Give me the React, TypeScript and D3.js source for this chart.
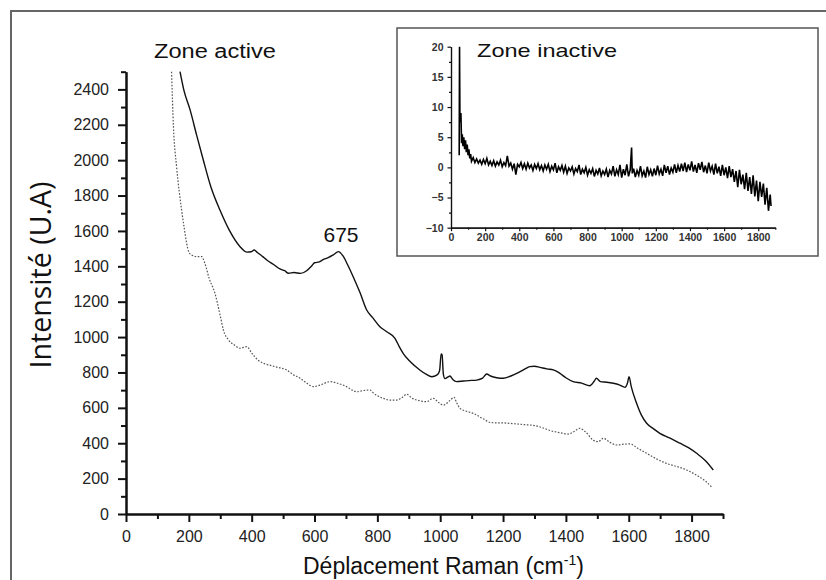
import React, { useEffect, useRef } from 'react';
import * as d3 from 'd3';

// Main chart: solid spectrum (zone active)
const solidX = [172, 185, 204, 225, 246, 270, 299, 330, 363, 385, 398, 408, 418, 435, 448, 470, 490, 505, 517, 535, 555, 575, 590, 600, 615, 630, 645, 660, 676, 690, 705, 723, 745, 766, 785, 808, 830, 856, 870, 882, 905, 935, 955, 973, 990, 998, 1003, 1006, 1010, 1015, 1025, 1031, 1040, 1052, 1075, 1100, 1116, 1135, 1148, 1160, 1180, 1200, 1225, 1250, 1270, 1285, 1300, 1317, 1340, 1360, 1381, 1400, 1423, 1450, 1476, 1490, 1497, 1510, 1530, 1551, 1570, 1588, 1596, 1601, 1608, 1625, 1640, 1657, 1680, 1699, 1730, 1763, 1790, 1816, 1845, 1869];
const solidY = [2500, 2390, 2284, 2140, 2001, 1850, 1718, 1600, 1511, 1480, 1482, 1492, 1478, 1455, 1436, 1410, 1385, 1375, 1361, 1365, 1360, 1375, 1400, 1420, 1425, 1440, 1450, 1465, 1483, 1460, 1410, 1341, 1250, 1153, 1110, 1059, 1030, 993, 945, 908, 860, 814, 790, 776, 786, 810, 905, 900, 790, 765, 775, 780, 760, 748, 752, 755, 757, 768, 791, 780, 770, 767, 780, 800, 820, 833, 835, 829, 820, 815, 795, 770, 748, 740, 725, 750, 767, 748, 745, 739, 730, 716, 740, 776, 720, 626, 560, 513, 480, 456, 430, 400, 375, 343, 300, 249];

// Main chart: dotted spectrum
const dottedX = [145, 151, 161, 177, 185, 193, 200, 209, 225, 241, 251, 265, 283, 300, 310, 326, 345, 363, 384, 400, 420, 437, 460, 480, 511, 530, 554, 575, 596, 620, 649, 680, 702, 720, 734, 756, 776, 790, 818, 840, 861, 880, 893, 910, 935, 957, 978, 995, 1010, 1030, 1044, 1052, 1063, 1085, 1105, 1135, 1163, 1200, 1243, 1270, 1300, 1330, 1349, 1380, 1407, 1425, 1444, 1465, 1485, 1503, 1519, 1540, 1562, 1585, 1604, 1630, 1657, 1690, 1720, 1750, 1784, 1820, 1845, 1863];
const dottedY = [2500, 2189, 1963, 1718, 1620, 1530, 1480, 1464, 1455, 1455, 1417, 1330, 1248, 1120, 1040, 984, 955, 937, 946, 910, 870, 852, 840, 830, 814, 790, 767, 740, 720, 730, 748, 735, 720, 700, 691, 698, 701, 680, 654, 644, 644, 660, 677, 655, 640, 635, 654, 630, 616, 640, 660, 630, 597, 580, 569, 540, 516, 515, 509, 505, 500, 485, 472, 460, 452, 465, 484, 460, 420, 409, 428, 405, 390, 395, 396, 370, 343, 310, 286, 270, 249, 215, 185, 154];

// Inset: zone inactive
const insetX = [48, 50, 52, 55, 58, 62, 66, 70, 75, 80, 85, 90, 95, 100, 105, 110, 115, 120,
  130, 140, 150, 160, 170, 180, 190, 200, 210, 220, 230, 240, 250, 260, 270, 280, 290, 300,
  310, 320, 330, 340, 350, 360, 370, 380, 390, 400, 410, 420, 430, 440, 450, 460, 470, 480, 490, 500,
  510, 520, 530, 540, 550, 560, 570, 580, 590, 600, 610, 620, 630, 640, 650, 660, 670, 680, 690, 700,
  710, 720, 730, 740, 750, 760, 770, 780, 790, 800, 810, 820, 830, 840, 850, 860, 870, 880, 890, 900,
  910, 920, 930, 940, 950, 960, 970, 980, 990, 1000, 1010, 1020, 1030, 1040, 1050, 1058, 1062, 1070, 1080, 1090, 1100,
  1110, 1120, 1130, 1140, 1150, 1160, 1170, 1180, 1190, 1200, 1210, 1220, 1230, 1240, 1250, 1260, 1270, 1280, 1290, 1300,
  1310, 1320, 1330, 1340, 1350, 1360, 1370, 1380, 1390, 1400, 1410, 1420, 1430, 1440, 1450, 1460, 1470, 1480, 1490, 1500,
  1510, 1520, 1530, 1540, 1550, 1560, 1570, 1580, 1590, 1600, 1610, 1620, 1630, 1640, 1650, 1660, 1670, 1680, 1690, 1700,
  1710, 1720, 1730, 1740, 1750, 1760, 1770, 1780, 1790, 1800, 1810, 1820, 1830, 1840, 1850, 1860, 1870, 1875];
const insetY = [2, 20, 9, 7.5, 9, 4, 5.5, 3.5, 5, 3, 4.5, 2.5, 3.8, 2, 3, 1.5, 2.2, 1,
  1.6, 0.8, 1.4, 0.7, 1.2, 0.5, 1.3, 0.6, 1.5, 0.4, 1.0, 0.3, 1.1, 0.2, 0.9, 0.4, 1.2, 0.1,
  0.8, 0.3, 1.9, 0.2, 0.7, -0.3, 0.6, -1.2, 0.5, 0.1, 0.8, -0.2, 0.6, -0.3, 0.7, -0.1, 0.4, -0.5, 0.5, -0.2,
  0.6, -0.4, 0.3, -0.6, 0.4, -0.3, 0.5, -0.7, 0.2, -0.4, 0.7, -0.9, 0.1, -0.5, 0.3, -0.8, 0.2, -1.0, -0.1, -0.6,
  0.1, -1.1, -0.2, -0.7, 0.4, -1.2, -0.3, -0.9, 0.0, -1.3, -0.4, -1.0, -0.2, -1.5, -0.5, -1.1, -0.1, -1.4, -0.6, -1.2,
  -0.3, -1.6, -0.5, -1.1, 0.2, -1.5, -0.4, -1.2, 0.4, -1.7, -0.3, -1.3, 0.5, -1.5, -0.4, 3.3, -1.0, -0.2, -1.6, -0.5, -1.3,
  0.2, -1.4, -0.6, -1.7, 0.1, -1.2, -0.4, -1.5, -0.2, -1.3, 0.3, -1.1, -0.3, -1.4, 0.4, -0.9, 0.2, -1.2, -0.1, -0.8,
  0.5, -0.9, 0.3, -0.7, 0.6, -0.6, 0.8, -0.8, 0.5, -0.5, 1.0, -0.7, 0.4, -0.9, 0.7, -0.4, 0.9, -0.8, 0.3, -1.0,
  0.8, -0.6, 0.2, -1.2, 0.6, -1.0, 0.1, -1.4, 0.4, -1.3, 0.0, -1.8, 0.2, -1.6, -0.3, -2.4, -0.6, -3.3, -0.4, -2.8,
  -1.2, -3.6, -0.9, -3.9, -1.6, -4.4, -1.3, -4.8, -2.2, -5.6, -2.4, -4.9, -2.7, -6.2, -3.4, -7.2, -4.5, -6.4];

const mainXTicks = [0, 200, 400, 600, 800, 1000, 1200, 1400, 1600, 1800];
const mainXMinor = [100, 300, 500, 700, 900, 1100, 1300, 1500, 1700, 1900];
const mainYTicks = [0, 200, 400, 600, 800, 1000, 1200, 1400, 1600, 1800, 2000, 2200, 2400];
const mainYMinor = [100, 300, 500, 700, 900, 1100, 1300, 1500, 1700, 1900, 2100, 2300, 2500];
const insetXTicks = [0, 200, 400, 600, 800, 1000, 1200, 1400, 1600, 1800];
const insetXMinor = [100, 300, 500, 700, 900, 1100, 1300, 1500, 1700, 1900];
const insetYTicks = [-10, -5, 0, 5, 10, 15, 20];
const insetYMinor = [-7.5, -2.5, 2.5, 7.5, 12.5, 17.5];

export default function App() {
  const ref = useRef<SVGSVGElement>(null);
  useEffect(() => {
    const svg = d3.select(ref.current);
    svg.selectAll('*').remove();

    // outer frame
    svg.append('rect').attr('x', 11).attr('y', 11).attr('width', 830).attr('height', 590)
      .attr('fill', 'none').attr('stroke', '#666').attr('stroke-width', 2);

    // ===== main chart
    const x = d3.scaleLinear().domain([0, 1900]).range([126, 723]);
    const y = d3.scaleLinear().domain([0, 2500]).range([514, 71.7]);

    const line = d3.line<[number, number]>().x(d => x(d[0])).y(d => y(d[1])).curve(d3.curveMonotoneX);
    const solid: [number, number][] = solidX.map((v, i) => [v, solidY[i]]);
    const dotted: [number, number][] = dottedX.map((v, i) => [v, dottedY[i]]);

    svg.append('path').attr('d', line(dotted)!).attr('fill', 'none')
      .attr('stroke', '#555').attr('stroke-width', 1.2).attr('stroke-dasharray', '1.6,1.6');
    svg.append('path').attr('d', line(solid)!).attr('fill', 'none')
      .attr('stroke', '#111').attr('stroke-width', 1.4).attr('stroke-linejoin', 'round');

    const styleAxis = (g: any, fs: number, color: string, sw: number) => {
      g.selectAll('path').attr('stroke', '#111').attr('stroke-width', sw);
      g.selectAll('line').attr('stroke', '#111').attr('stroke-width', sw);
      g.selectAll('text').attr('font-family', 'Liberation Sans, Arial, sans-serif')
        .attr('font-size', fs).attr('fill', color);
      g.attr('font-family', null).attr('font-size', null);
    };

    const gxm = svg.append('g').attr('transform', 'translate(0,514)')
      .call(d3.axisBottom(x).tickValues(mainXMinor).tickSize(5).tickSizeOuter(0).tickFormat(() => ''));
    styleAxis(gxm, 16, '#222', 2);
    const gym = svg.append('g').attr('transform', 'translate(126,0)')
      .call(d3.axisLeft(y).tickValues(mainYMinor).tickSize(5).tickSizeOuter(0).tickFormat(() => ''));
    styleAxis(gym, 16, '#222', 2);
    const gx = svg.append('g').attr('transform', 'translate(0,514)')
      .call(d3.axisBottom(x).tickValues(mainXTicks).tickSize(8).tickSizeOuter(0).tickPadding(9).tickFormat(d3.format('d')));
    styleAxis(gx, 16, '#222', 2);
    const gy = svg.append('g').attr('transform', 'translate(126,0)')
      .call(d3.axisLeft(y).tickValues(mainYTicks).tickSize(8).tickSizeOuter(0).tickPadding(9).tickFormat(d3.format('d')));
    styleAxis(gy, 16, '#222', 2);

    svg.append('text').attr('x', 154).attr('y', 57.5).attr('font-family', 'Liberation Sans, Arial, sans-serif')
      .attr('font-size', 19.5).attr('textLength', 122).attr('lengthAdjust', 'spacingAndGlyphs')
      .attr('fill', '#111').text('Zone active');
    svg.append('text').attr('x', 341).attr('y', 242).attr('text-anchor', 'middle')
      .attr('font-family', 'Liberation Sans, Arial, sans-serif').attr('font-size', 21).attr('fill', '#111').text('675');

    // axis titles
    svg.append('text').attr('transform', 'translate(51,275) rotate(-90)').attr('text-anchor', 'middle')
      .attr('font-family', 'Open Sans, sans-serif').attr('font-size', 29).attr('fill', '#111')
      .attr('textLength', 187).attr('lengthAdjust', 'spacingAndGlyphs').text('Intensité (U.A)');
    const xt = svg.append('text').attr('x', 303).attr('y', 573.5)
      .attr('font-family', 'Liberation Sans, Arial, sans-serif').attr('font-size', 23).attr('fill', '#111');
    xt.append('tspan').text('Déplacement Raman (cm');
    xt.append('tspan').attr('font-size', 14).attr('dy', -9).text('-1');
    xt.append('tspan').attr('dy', 9).text(')');

    // ===== inset
    svg.append('rect').attr('x', 397).attr('y', 28).attr('width', 421).attr('height', 228)
      .attr('fill', '#fff').attr('stroke', '#555').attr('stroke-width', 1.5);

    const ix = d3.scaleLinear().domain([0, 1900]).range([451, 775.3]);
    const iy = d3.scaleLinear().domain([-10, 20]).range([227.7, 46.7]);
    const iline = d3.line<[number, number]>().x(d => ix(d[0])).y(d => iy(d[1]));
    const ins: [number, number][] = insetX.map((v, i) => [v, insetY[i]]);
    svg.append('path').attr('d', iline(ins)!).attr('fill', 'none').attr('stroke', '#000').attr('stroke-width', 1.6);

    const gixm = svg.append('g').attr('transform', 'translate(0,227.7)')
      .call(d3.axisBottom(ix).tickValues(insetXMinor).tickSize(2).tickSizeOuter(0).tickFormat(() => ''));
    styleAxis(gixm, 10.5, '#333', 1.2);
    const giym = svg.append('g').attr('transform', 'translate(451,0)')
      .call(d3.axisLeft(iy).tickValues(insetYMinor).tickSize(2).tickSizeOuter(0).tickFormat(() => ''));
    styleAxis(giym, 10.5, '#333', 1.2);
    const gix = svg.append('g').attr('transform', 'translate(0,227.7)')
      .call(d3.axisBottom(ix).tickValues(insetXTicks).tickSize(3.5).tickSizeOuter(0).tickPadding(2).tickFormat(d3.format('d')));
    styleAxis(gix, 10.5, '#333', 1.2);
    const giy = svg.append('g').attr('transform', 'translate(451,0)')
      .call(d3.axisLeft(iy).tickValues(insetYTicks).tickSize(3.5).tickSizeOuter(0).tickPadding(4).tickFormat(d3.format('d')));
    styleAxis(giy, 10.5, '#333', 1.2);
    giy.selectAll('text').attr('font-weight', 'bold');
    gix.selectAll('text').attr('font-weight', 'bold');

    svg.append('text').attr('x', 477).attr('y', 56.7).attr('font-family', 'Liberation Sans, Arial, sans-serif')
      .attr('font-size', 19).attr('textLength', 140).attr('lengthAdjust', 'spacingAndGlyphs')
      .attr('fill', '#111').text('Zone inactive');
  }, []);

  return (
    <svg ref={ref} width={826} height={580}
      style={{ position: 'absolute', left: 0, top: 0, background: '#fff', display: 'block' }} />
  );
}
